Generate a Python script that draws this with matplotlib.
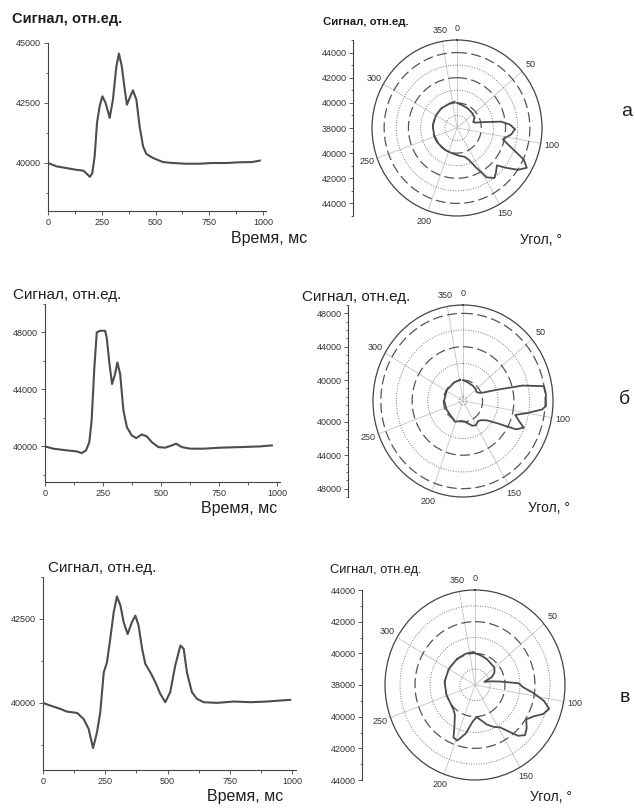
import numpy as np
import matplotlib
matplotlib.use("Agg")
from matplotlib import pyplot as plt
from matplotlib.ticker import FixedLocator, MultipleLocator

plt.rcParams["font.family"] = ["Liberation Sans", "DejaVu Sans"]

# --- data: signal vs time (ms); the polar plots use the same signal
time_a = [0, 40, 85, 130, 165, 185, 195, 206, 217, 228, 240, 253, 268, 287, 302, 318, 330, 343,
          357, 367, 383, 395, 411, 426, 442, 457, 488, 535, 580, 640, 705, 765, 830, 890, 950, 985]
signal_a = [40000, 39860, 39790, 39720, 39680, 39510, 39420, 39580, 40280, 41670, 42360, 42780,
            42500, 41880, 42640, 44030, 44560, 44030, 43060, 42430, 42780, 43030, 42640, 41530,
            40700, 40380, 40210, 40040, 40000, 39970, 39970, 40000, 40000, 40030, 40040, 40100]

time_b = [0, 36, 94, 137, 158, 177, 191, 201, 212, 223, 237, 259, 266, 278, 289, 302, 312, 324,
          338, 353, 374, 393, 417, 439, 460, 489, 518, 547, 565, 590, 626, 683, 755, 842, 928, 978]
signal_b = [40000, 39840, 39720, 39650, 39530, 39720, 40300, 41820, 45320, 48000, 48120, 48120,
            47650, 45780, 44380, 45080, 45900, 45080, 42520, 41350, 40770, 40580, 40840, 40700,
            40300, 39950, 39910, 40070, 40190, 39950, 39840, 39840, 39910, 39950, 40000, 40070]

time_v = [0, 29, 70, 96, 137, 163, 183, 201, 217, 230, 244, 257, 270, 284, 297, 311, 324, 340,
          357, 371, 384, 398, 411, 431, 451, 471, 491, 511, 531, 552, 565, 578, 598, 618, 645,
          699, 766, 833, 900, 953, 993]
signal_v = [40000, 39920, 39820, 39740, 39700, 39520, 39230, 38650, 39130, 39720, 40910, 41210,
            41900, 42700, 43170, 42900, 42400, 42050, 42400, 42600, 42300, 41610, 41160, 40910,
            40620, 40270, 40020, 40320, 41110, 41710, 41610, 40910, 40320, 40120, 40020, 40000,
            40040, 40020, 40040, 40070, 40090]

time_ticks = [0, 250, 500, 750, 1000]
angle_ticks = [0, 50, 100, 150, 200, 250, 300, 350]
ms_to_deg = 360 / 1000

yticks_a = [40000, 42500, 45000]
yticks_b = [40000, 44000, 48000]
yticks_v = [40000, 42500]

# polar radial scale: labelled values, dashed / dotted rings
rlabels_a = [38000, 40000, 42000, 44000]
rlabels_b = [40000, 44000, 48000]
rlabels_v = [38000, 40000, 42000, 44000]
dashed_a, dotted_a = [40000, 42000, 44000], [39000, 41000, 43000]
dashed_b, dotted_b = [40000, 44000, 48000], [38000, 42000, 46000]
dashed_v, dotted_v = [40000, 42000], [39000, 41000, 43000]

ylabel = "Сигнал, отн.ед."
xlabel = "Время, мс"
alabel = "Угол, °"
row_names = ["а", "б", "в"]

W, H = 635, 808
LINE = "#4d4d4d"
AX = "#444444"
TXT = "#1e1e1e"

rows = [
    dict(t=time_a, s=signal_a, yticks=yticks_a, ylim=(38000, 45000), ybox=(43, 211), xbox=48, xscale=215,
         rc=(38000, 45000), rlabels=rlabels_a, dashed=dashed_a, dotted=dotted_a,
         pc=(457, 128), prx=85, pry=88, raxx=353,
         title=(12, 19, 10.5, "bold"), ptitle=(323, 22, 8.2, "bold"),
         xl=(307, 238), al=(520, 240), name=(627, 112)),
    dict(t=time_b, s=signal_b, yticks=yticks_b, ylim=(37500, 50000), ybox=(304, 482), xbox=45, xscale=232,
         rc=(37500, 49000), rlabels=rlabels_b, dashed=dashed_b, dotted=dotted_b,
         pc=(463, 401), prx=90, pry=96, raxx=348,
         title=(13, 295, 11, "normal"), ptitle=(302, 297, 11, "normal"),
         xl=(277, 508), al=(528, 508), name=(624, 400)),
    dict(t=time_v, s=signal_v, yticks=yticks_v, ylim=(38000, 43750), ybox=(577, 770), xbox=43, xscale=249,
         rc=(38000, 44000), rlabels=rlabels_v, dashed=dashed_v, dotted=dotted_v,
         pc=(475, 685), prx=90, pry=95, raxx=362,
         title=(48, 568, 11, "normal"), ptitle=(330, 570, 9.3, "normal"),
         xl=(283, 797), al=(530, 797), name=(625, 697)),
]


def px_axes(fig, x0, y0, x1, y1, **kw):
    return fig.add_axes([x0 / W, 1 - y1 / H, (x1 - x0) / W, (y1 - y0) / H], **kw)


def ftext(fig, x, y, s, **kw):
    fig.text(x / W, 1 - y / H, s, color=TXT, va="center", **kw)


fig = plt.figure(figsize=(W / 100, H / 100), dpi=100)
fig.patch.set_facecolor("white")

for i, r in enumerate(rows):
    # time trace
    xmax = 1015
    ax = px_axes(fig, r["xbox"], r["ybox"][0], r["xbox"] + r["xscale"] * xmax / 1000, r["ybox"][1])
    ax.plot(r["t"], r["s"], color=LINE, lw=1.5)
    ax.set_xlim(0, xmax)
    ax.set_ylim(*r["ylim"])
    ax.set_xticks(time_ticks)
    ax.xaxis.set_minor_locator(MultipleLocator(125))
    ax.set_yticks(r["yticks"])
    ax.yaxis.set_minor_locator(MultipleLocator((r["yticks"][1] - r["yticks"][0]) / 2))
    for side in ("top", "right"):
        ax.spines[side].set_visible(False)
    for side in ("left", "bottom"):
        ax.spines[side].set_color(AX)
        ax.spines[side].set_linewidth(0.8)
    ax.tick_params(which="both", direction="out", colors=AX, labelcolor="#333333", labelsize=6.5, width=0.6, pad=2)
    ax.tick_params(which="major", length=3)
    ax.tick_params(which="minor", length=1.8)
    ax.patch.set_alpha(0)

    tx, ty, tfs, tw = r["title"]
    ftext(fig, tx, ty, ylabel, fontsize=tfs, fontweight=tw, ha="left")
    ftext(fig, r["xl"][0], r["xl"][1], xlabel, fontsize=11.5, ha="right")

    # polar plot
    c, outer = r["rc"]
    cx, cy = r["pc"]
    pax = px_axes(fig, cx - r["prx"], cy - r["pry"], cx + r["prx"], cy + r["pry"], projection="polar")
    pax.set_theta_zero_location("N")
    pax.set_theta_direction(-1)
    ring = np.linspace(0, 2 * np.pi, 361)
    for v in r["dashed"]:
        pax.plot(ring, np.full_like(ring, v), color="#555555", lw=0.9, ls=(0, (8, 3.5)))
    for v in r["dotted"]:
        pax.plot(ring, np.full_like(ring, v), color="#777777", lw=0.7, ls=(0, (1, 1.6)))
    theta = np.deg2rad(np.asarray(r["t"]) * ms_to_deg)
    pax.plot(theta, r["s"], color=LINE, lw=1.3)
    pax.set_ylim(c, outer)
    pax.set_yticks([])
    pax.set_thetagrids(angle_ticks, labels=[str(a) for a in angle_ticks], fontsize=6.5, color="#333333")
    pax.xaxis.grid(True, color="#c4c4c4", lw=0.6, ls="-")
    pax.tick_params(axis="x", pad=-2.5)
    pax.spines["polar"].set_color(AX)
    pax.spines["polar"].set_linewidth(0.9)
    pax.set_aspect("auto")
    pax.patch.set_alpha(0)

    # radial scale drawn as a mirrored vertical axis on the left
    span = outer - c
    rax = px_axes(fig, r["raxx"], cy - r["pry"], r["raxx"] + 2, cy + r["pry"])
    rax.set_ylim(-span, span)
    offs, labs = [], []
    for v in r["rlabels"]:
        if v == c:
            offs.append(0)
            labs.append(str(v))
        else:
            offs += [v - c, c - v]
            labs += [str(v), str(v)]
    rax.set_yticks(offs)
    rax.set_yticklabels(labs)
    minor_vals = np.arange(np.ceil(c / 1000) * 1000, outer + 1, 1000)
    rax.yaxis.set_minor_locator(FixedLocator(np.concatenate([minor_vals - c, c - minor_vals])))
    rax.set_xticks([])
    for side in ("top", "right", "bottom"):
        rax.spines[side].set_visible(False)
    rax.spines["left"].set_color(AX)
    rax.spines["left"].set_linewidth(0.8)
    rax.tick_params(which="both", direction="out", colors=AX, labelcolor="#333333", labelsize=6.5, width=0.6, pad=1.5)
    rax.tick_params(which="major", length=3)
    rax.tick_params(which="minor", length=1.8)
    rax.patch.set_alpha(0)

    px, py, pfs, pw = r["ptitle"]
    ftext(fig, px, py, ylabel, fontsize=pfs, fontweight=pw, ha="left")
    ftext(fig, r["al"][0], r["al"][1], alabel, fontsize=10, ha="left")
    ftext(fig, r["name"][0], r["name"][1], row_names[i], fontsize=14, ha="center")

fig.savefig("out.png", dpi=100)
